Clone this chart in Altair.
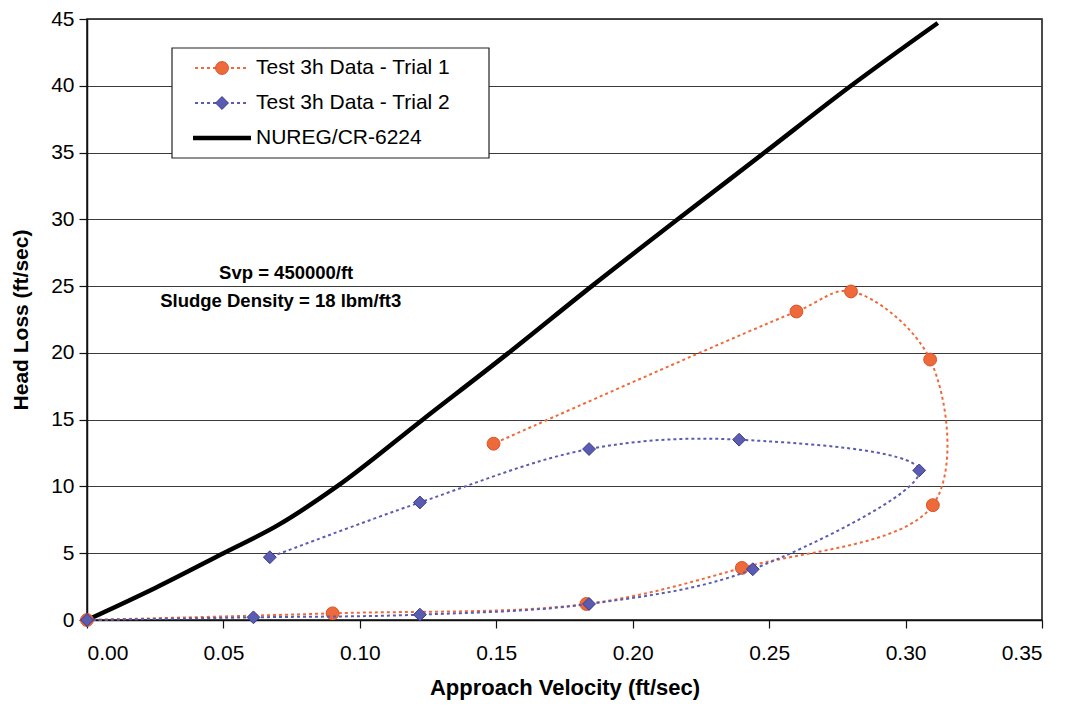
import altair as alt
import pandas as pd

# ---- data ----
v_trial1 = [0.000, 0.090, 0.183, 0.240, 0.310, 0.309, 0.280, 0.260, 0.149]
h_trial1 = [0.0, 0.5, 1.2, 3.9, 8.6, 19.5, 24.6, 23.1, 13.2]

v_trial2 = [0.000, 0.061, 0.122, 0.184, 0.244, 0.305, 0.239, 0.184, 0.122, 0.067]
h_trial2 = [0.0, 0.2, 0.4, 1.2, 3.8, 11.2, 13.5, 12.8, 8.8, 4.7]

v_nureg = [0.000, 0.025, 0.050, 0.070, 0.0916, 0.123, 0.1545, 0.1850, 0.2165, 0.2483, 0.2800, 0.3118]
h_nureg = [0.0, 2.4, 5.0, 7.1, 10.0, 15.0, 20.0, 25.0, 30.0, 35.0, 40.0, 44.7]

series_names = ["Test 3h Data - Trial 1", "Test 3h Data - Trial 2", "NUREG/CR-6224"]
annotation_lines = ["Svp = 450000/ft", "Sludge Density = 18 lbm/ft3"]
annotation_v = [0.073, 0.071]
annotation_h = [26.0, 23.9]

x_ticks = [0.00, 0.05, 0.10, 0.15, 0.20, 0.25, 0.30, 0.35]
y_ticks = [0, 5, 10, 15, 20, 25, 30, 35, 40, 45]

ORANGE = "#EE6A3A"
BLUE = "#5A5CB2"
FONT = "Liberation Sans"

t1 = pd.DataFrame({"v": v_trial1, "h": h_trial1, "i": range(len(v_trial1))})
t2 = pd.DataFrame({"v": v_trial2, "h": h_trial2, "i": range(len(v_trial2))})
nu = pd.DataFrame({"v": v_nureg, "h": h_nureg, "i": range(len(v_nureg))})
ann = pd.DataFrame({"v": annotation_v, "h": annotation_h, "t": annotation_lines})

xscale = alt.Scale(domain=[0, 0.35], nice=False, zero=False)
yscale = alt.Scale(domain=[0, 45], nice=False)

X = alt.X("v:Q", scale=xscale, axis=alt.Axis(
    title="Approach Velocity (ft/sec)", values=x_ticks, format=".2f", grid=False,
    tickSize=8, labelPadding=14, titlePadding=14, titleFontSize=22))
Y = alt.Y("h:Q", scale=yscale, axis=alt.Axis(
    title="Head Loss (ft/sec)", values=y_ticks, format="d", grid=True,
    tickSize=8, labelPadding=5, titlePadding=19))

nureg_line = alt.Chart(nu).mark_line(color="black", strokeWidth=4.5, interpolate="monotone").encode(
    x=X, y=Y, order="i:Q")

t1_line = alt.Chart(t1).mark_line(color=ORANGE, strokeWidth=2, strokeDash=[3, 3],
                                  interpolate="catmull-rom").encode(x=X, y=Y, order="i:Q")
t1_pts = alt.Chart(t1).mark_point(shape="circle", filled=True, size=165, color=ORANGE,
                                  opacity=1, stroke="#D9542A", strokeWidth=1).encode(x=X, y=Y)

t2_line = alt.Chart(t2).mark_line(color=BLUE, strokeWidth=2, strokeDash=[3, 3],
                                  interpolate="catmull-rom").encode(x=X, y=Y, order="i:Q")
t2_pts = alt.Chart(t2).mark_point(shape="diamond", filled=True, size=165, color=BLUE,
                                  opacity=1, stroke="#3A3C8C", strokeWidth=1).encode(x=X, y=Y)

ann_text = alt.Chart(ann).mark_text(fontSize=18.5, fontWeight="bold", font=FONT,
                                    color="black", align="center", baseline="middle").encode(
    x=X, y=Y, text="t:N")

# ---- manual legend (pixel positions in the plot area) ----
one = pd.DataFrame({"k": [0]})
legend_layers = [
    alt.Chart(one).mark_rect(fill="white", stroke="#222", strokeWidth=1.2).encode(
        x=alt.value(85), x2=alt.value(402), y=alt.value(29), y2=alt.value(139))
]
entry_y = [49, 84, 119]
for k, name in enumerate(series_names):
    yy = entry_y[k]
    if k < 2:
        col = ORANGE if k == 0 else BLUE
        legend_layers.append(alt.Chart(one).mark_rule(color=col, strokeWidth=2, strokeDash=[3, 3]).encode(
            x=alt.value(108), x2=alt.value(162), y=alt.value(yy)))
        legend_layers.append(alt.Chart(one).mark_point(
            shape="circle" if k == 0 else "diamond", filled=True, size=165, color=col, opacity=1,
            stroke="#D9542A" if k == 0 else "#3A3C8C", strokeWidth=1).encode(
            x=alt.value(135), y=alt.value(yy)))
    else:
        legend_layers.append(alt.Chart(one).mark_rule(color="black", strokeWidth=4.5).encode(
            x=alt.value(106), x2=alt.value(164), y=alt.value(yy)))
    legend_layers.append(alt.Chart(pd.DataFrame({"t": [name]})).mark_text(
        fontSize=21, font=FONT, color="black", align="left", baseline="middle").encode(
        x=alt.value(169), y=alt.value(yy), text="t:N"))

chart = alt.layer(
    nureg_line, t1_line, t1_pts, t2_line, t2_pts, ann_text, *legend_layers
).properties(
    width=955, height=601,
    autosize=alt.AutoSizeParams(type="none"),
    padding={"left": 79, "top": 11, "right": 10, "bottom": 84},
    background="white",
).configure_view(
    stroke="#111", strokeWidth=1.5
).configure_axis(
    domainColor="#111", domainWidth=1.5, tickColor="#111", tickWidth=1.2,
    gridColor="#3a3a3a", gridWidth=1, gridOpacity=1,
    labelFont=FONT, labelFontSize=21, labelColor="black",
    titleFont=FONT, titleFontSize=21, titleFontWeight="bold", titleColor="black",
)

chart.save("out.html", embed_options={"renderer": "svg", "actions": False})
